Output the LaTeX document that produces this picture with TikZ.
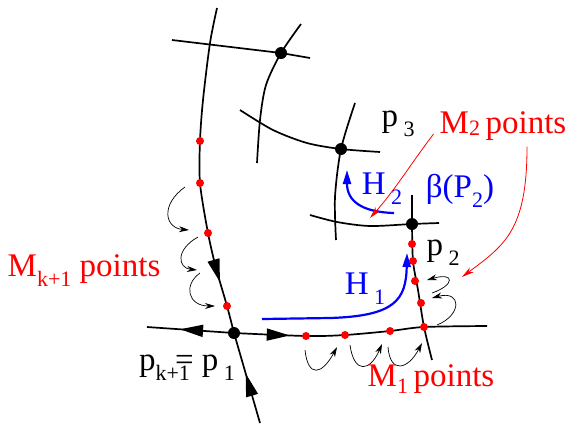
\documentclass[tikz,border=0pt]{standalone}
\usepackage{fontspec}
\setmainfont{Liberation Serif}
\usetikzlibrary{arrows.meta,decorations.markings}

\newcommand\lowsub[2][0.3em]{\raisebox{-#1}{\fontsize{22}{22}\selectfont #2}}

\begin{document}
\begin{tikzpicture}[x=1pt,y=-1pt,font=\fontsize{33}{38}\selectfont,
  curve/.style={line width=1.7pt},
  midarrow/.style={postaction={decorate},decoration={markings,
    mark=at position #1 with {\arrow{Triangle[length=23pt,width=12pt]}}}},
  bigdot/.style={circle,fill=black,inner sep=0pt,minimum size=12pt},
  reddot/.style={circle,fill=red,inner sep=0pt,minimum size=8pt},
  curl/.style={line width=0.7pt,-{Stealth[length=10pt,width=6pt]}},
  redarrow/.style={red,line width=0.8pt,-{Stealth[length=12pt,width=6pt]}},
  bluearrow/.style={blue,line width=2.2pt,-{Triangle[length=14pt,width=8pt]}},
  lbl/.style={inner sep=0pt}]
\useasboundingbox (0,0) rectangle (569,424);
% crossing points
\coordinate (p1) at (234,333);
\coordinate (p2) at (412,224);
\coordinate (p3) at (341,149);
\coordinate (p4) at (281,53);
% separatrices through p1
\draw[curve,midarrow=0.84] plot[smooth] coordinates {(217,8) (210,43) (203,100) (200,141) (200,183) (208,233) (216,268) (227,306) (p1)};
\draw[curve,midarrow=0.55] (260,423) -- (p1);
\draw[curve,midarrow=0.62] (p1) -- (147,327);
\draw[curve,midarrow=0.22] plot[smooth] coordinates {(p1) (306,336) (345,335) (390,331) (424,327) (487,326)};
% the other curves
\draw[curve] (172,40) -- (p4) -- (310,58);
\draw[curve] plot[smooth] coordinates {(301,24) (p4) (266,85) (260,120) (257,163)};
\draw[curve] plot[smooth] coordinates {(240,110) (273,130) (307,143) (p3) (380,152)};
\draw[curve] plot[smooth] coordinates {(355,103) (p3) (335,197) (336,240)};
\draw[curve] plot[smooth] coordinates {(310,215) (337,222) (370,226) (p2) (439,223)};
\draw[curve] plot[smooth] coordinates {(412,195) (p2) (413,261) (418,290) (424,327) (432,360)};
% M points
\foreach \x/\y [count=\i] in {200/141,200/183,208/233,227/306,306/336,345/335,390/331,424/327,421/303,415/281,413/261,412/244}
  \node[reddot] (r\i) at (\x,\y) {};
\node[bigdot] (d1) at (p1) {};
\node[bigdot] (d2) at (p2) {};
\node[bigdot] (d3) at (p3) {};
\node[bigdot] (d4) at (p4) {};
% small curls
\draw[curl] (185,187) .. controls (160,205) and (165,228) .. (189,230);
\draw[curl] (198,237) .. controls (175,250) and (178,268) .. (197,270);
\draw[curl] (200,273) .. controls (183,285) and (188,306) .. (215,306);
\draw[curl] (305,350) .. controls (308,378) and (322,375) .. (337,347);
\draw[curl] (350,345) .. controls (354,374) and (370,372) .. (382,344);
\draw[curl] (388,347) .. controls (390,374) and (408,370) .. (422,343);
\draw[curl] (432,293) .. controls (455,285) and (455,272) .. (427,280);
\draw[curl] (437,325) .. controls (462,315) and (462,290) .. (432,298);
% blue moves
\draw[bluearrow] (262,319) -- (330,318) .. controls (395,316) and (406,300) .. (407,253);
\draw[bluearrow] (394,213) .. controls (360,212) and (347,200) .. (347,170);
% labels
\node[lbl] (lp3) at (398,124) {p\,\lowsub{3}};
\node[lbl] (lp2) at (443,253) {p\,\lowsub{2}};
\node[lbl] (lp1) at (187,368) {p\lowsub{k+1}\kern-0.45em= p\,\lowsub{1}};
\node[lbl,blue] (lh1) at (365,289) {H\,\lowsub{1}};
\node[lbl,blue] (lh2) at (382,189) {H\,\lowsub{2}};
\node[lbl,blue] (lbeta) at (460,191) {β(P\lowsub{2})};
\node[lbl,red] (lm2) at (503,126) {M\lowsub[0.05em]{2}\,points};
\node[lbl,red] (lmk) at (84,271) {M\lowsub{k+1} points};
\node[lbl,red] (lm1) at (431,379) {M\lowsub[0.2em]{1}\,points};
% red pointers
\coordinate (t1) at (370,218);
\coordinate (t2) at (462,277);
\draw[redarrow] (lm2.west) ++(-6,8) .. controls (410,165) and (395,190) .. (t1);
\draw[redarrow] (lm2.south) ++(24,6) .. controls (527,230) and (505,245) .. (t2);
\end{tikzpicture}
\end{document}
